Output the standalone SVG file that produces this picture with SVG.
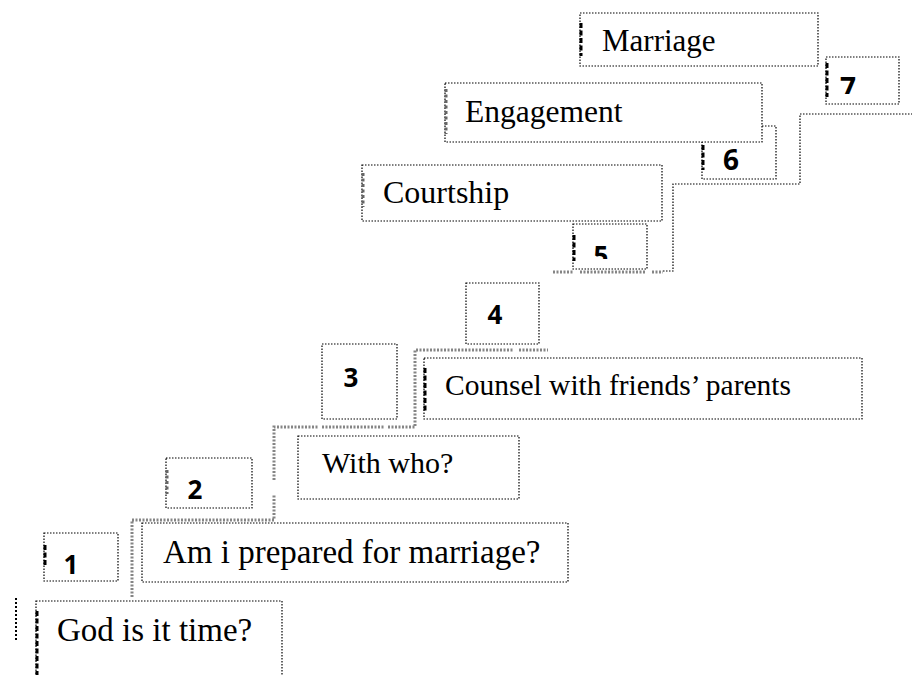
<svg xmlns="http://www.w3.org/2000/svg" width="912" height="675" viewBox="0 0 912 675">
<style>
.box{fill:#fff;stroke:#000;stroke-width:1.2;stroke-dasharray:1.5 1.5}
.lbl{font-family:"Liberation Serif","Times New Roman",serif;font-size:31px;fill:#000}
.num{font-family:"Noto Sans","Open Sans",sans-serif;font-weight:bold;font-size:26px;fill:#000;text-anchor:middle}
.thick{stroke:#000;stroke-width:3;stroke-dasharray:5 2.5;fill:none}
.thickg{stroke:#666;stroke-width:3;stroke-dasharray:3 2.5;fill:none}
.gc{stroke:#858585;stroke-width:3;stroke-dasharray:2 1.5;fill:none}
.tc{stroke:#000;stroke-width:1.2;stroke-dasharray:1.5 1.5;fill:none}
</style>
<defs>
<clipPath id="c5"><rect x="573" y="224" width="75" height="35"/></clipPath>
<clipPath id="c7"><rect x="826" y="57" width="74" height="37"/></clipPath>
</defs>
<rect width="912" height="675" fill="#fff"/>
<g id="connectors">
<line x1="16" y1="598" x2="16" y2="642" stroke="#000" stroke-width="2" stroke-dasharray="2 2"/>
<polyline class="gc" points="132,597 132,520 274,520 274,494"/>
<polyline class="gc" points="274,480 274,427 318,427"/>
<polyline class="gc" points="322,427 384,427"/>
<polyline class="gc" points="388,427 415,427 415,350 513,350"/>
<polyline class="gc" points="519,350 548,350"/>
<polyline class="gc" points="553,272 573,272"/>
<polyline class="gc" points="580,272 646,272"/>
<polyline class="gc" points="652,272 663,272"/>
<polyline class="tc" points="663,271 673,271 673,184 800,184 800,114 912,114"/>
</g>
<g id="n1-god">
<rect class="box" x="36" y="601" width="246" height="80"/>
<line class="thick" x1="37" y1="611" x2="37" y2="675"/>
<text class="lbl" x="57" y="641" style="font-size:33px">God is it time?</text>
</g>
<g id="n-1">
<rect class="box" x="44" y="533" width="74" height="48"/>
<line class="thick" x1="45" y1="545" x2="45" y2="567"/>
<text class="num" x="71" y="574">1</text>
</g>
<g id="n2-prepared">
<rect class="box" x="142" y="523" width="426" height="59"/>
<text class="lbl" x="163" y="563" style="font-size:33px">Am i prepared for marriage?</text>
</g>
<g id="n-2">
<rect class="box" x="166" y="458" width="86" height="50"/>
<line class="thickg" x1="167" y1="470" x2="167" y2="494"/>
<text class="num" x="195" y="499">2</text>
</g>
<g id="n3-who">
<rect class="box" x="298" y="436" width="221" height="63"/>
<text class="lbl" x="322" y="473" style="font-size:30px">With who?</text>
</g>
<g id="n-3">
<rect class="box" x="322" y="344" width="75" height="75"/>
<text class="num" x="351" y="387">3</text>
</g>
<g id="n4-counsel">
<rect class="box" x="424" y="358" width="438" height="61"/>
<line class="thick" x1="425" y1="368" x2="425" y2="412"/>
<text class="lbl" x="445" y="395" style="font-size:29.5px">Counsel with friends’ parents</text>
</g>
<g id="n-4">
<rect class="box" x="466" y="283" width="73" height="61"/>
<text class="num" x="495" y="324">4</text>
</g>
<g id="n-5">
<rect class="box" x="573" y="224" width="74" height="45"/>
<line class="thick" x1="574" y1="235" x2="574" y2="261"/>
<text class="num" x="601" y="265" clip-path="url(#c5)">5</text>
</g>
<g id="n5-courtship">
<rect class="box" x="362" y="165" width="300" height="56"/>
<line class="thickg" x1="363" y1="173" x2="363" y2="207"/>
<text class="lbl" x="383" y="203" style="font-size:32px">Courtship</text>
</g>
<g id="n-6">
<rect class="box" x="702" y="126" width="74" height="53"/>
<line class="thick" x1="703" y1="145" x2="703" y2="170"/>
<text class="num" x="731" y="170" style="font-size:28px">6</text>
</g>
<g id="n6-engagement">
<rect class="box" x="445" y="83" width="317" height="59"/>
<line class="thickg" x1="446" y1="89" x2="446" y2="134"/>
<text class="lbl" x="465" y="122" style="font-size:31.5px">Engagement</text>
</g>
<g id="n7-marriage">
<rect class="box" x="580" y="13" width="238" height="53"/>
<line class="thick" x1="581" y1="23" x2="581" y2="56"/>
<text class="lbl" x="602" y="51">Marriage</text>
</g>
<g id="n-7">
<rect class="box" x="826" y="57" width="73" height="47"/>
<line class="thick" x1="827" y1="63" x2="827" y2="97"/>
<text class="num" x="848" y="98" clip-path="url(#c7)" style="font-size:28px">7</text>
</g>
</svg>
